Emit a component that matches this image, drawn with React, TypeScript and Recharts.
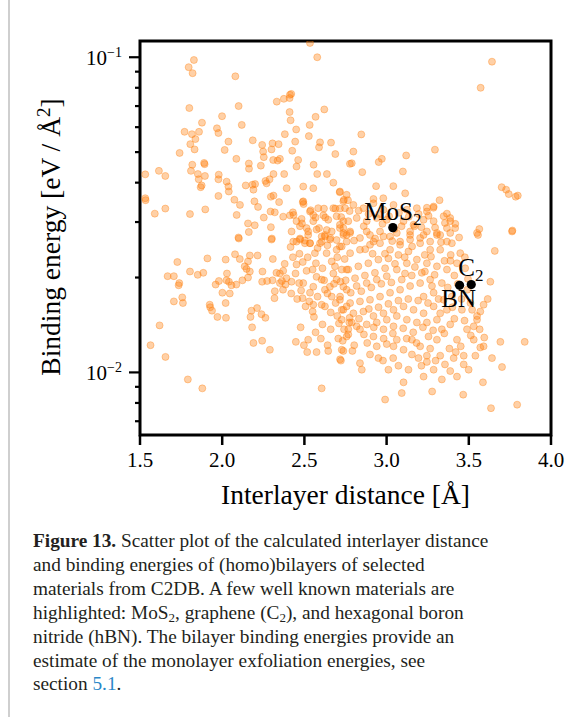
import { ScatterChart, Scatter, XAxis, YAxis, ReferenceArea } from 'recharts'

// interlayer distance [Å], binding energy [eV / Å^2] for each bilayer
const bilayers: [number, number][] = [
  [2.534, 0.111], [2.578, 0.100], [1.828, 0.098], [1.796, 0.093], [1.82, 0.089], [2.08, 0.087], [1.80, 0.069], [2.10, 0.070],
  [1.999, 0.065], [1.877, 0.062], [2.119, 0.061], [1.771, 0.058], [1.816, 0.057], [1.859, 0.058], [1.837, 0.055], [1.968, 0.0595],
  [1.977, 0.0575], [1.806, 0.053], [1.832, 0.051], [1.741, 0.0497], [2.038, 0.054], [2.015, 0.0508], [2.186, 0.0545], [2.243, 0.0527],
  [2.249, 0.0502], [2.253, 0.0482], [2.306, 0.0533], [2.343, 0.053], [2.30, 0.051], [2.31, 0.0472], [2.337, 0.047], [2.351, 0.0476],
  [2.332, 0.0723], [2.375, 0.0738], [2.412, 0.076], [2.42, 0.0765], [2.41, 0.0742], [2.41, 0.067], [2.416, 0.0631], [2.45, 0.059],
  [2.381, 0.057], [2.532, 0.061], [2.568, 0.0647], [2.621, 0.0683], [2.527, 0.0562], [2.444, 0.054], [2.595, 0.0537], [2.589, 0.0518],
  [2.662, 0.0536], [2.688, 0.0493], [2.426, 0.0505], [2.462, 0.0472], [2.452, 0.045], [2.556, 0.0456], [2.578, 0.0426], [2.637, 0.0426],
  [2.676, 0.040], [2.715, 0.0373], [2.554, 0.0384], [2.493, 0.0389], [2.377, 0.0426], [2.392, 0.0384], [2.312, 0.0426], [2.288, 0.041],
  [2.263, 0.0405], [2.27, 0.0398], [2.235, 0.0453], [2.162, 0.046], [2.163, 0.0443], [2.086, 0.0476], [2.143, 0.0392], [2.184, 0.0394],
  [2.2, 0.0396], [2.19, 0.038], [2.027, 0.0403], [2.038, 0.0389], [2.04, 0.0375], [1.979, 0.0424], [1.977, 0.041], [1.977, 0.0363],
  [1.895, 0.042], [1.875, 0.0392], [1.89, 0.0462], [1.893, 0.0458], [1.818, 0.0456], [1.81, 0.0436], [1.852, 0.0426], [1.857, 0.041],
  [1.869, 0.0387], [1.615, 0.0436], [1.654, 0.042], [1.532, 0.0425], [1.532, 0.0357], [1.534, 0.0352], [1.59, 0.0319], [1.654, 0.0331],
  [1.804, 0.0318], [1.897, 0.0329], [2.074, 0.0353], [2.108, 0.034], [2.088, 0.0316], [2.099, 0.0268], [2.196, 0.0349], [2.218, 0.0335],
  [2.253, 0.031], [2.157, 0.0297], [2.198, 0.0293], [2.294, 0.0324], [2.296, 0.0289], [2.302, 0.0266], [2.32, 0.0322], [2.346, 0.0347],
  [2.312, 0.0364], [2.296, 0.0361], [2.371, 0.0312], [2.434, 0.0316], [2.43, 0.0322], [2.49, 0.0347], [2.495, 0.0342], [2.483, 0.0307],
  [2.485, 0.0297], [2.513, 0.0287], [2.473, 0.0266], [2.538, 0.0327], [2.554, 0.0316], [2.568, 0.031], [2.619, 0.0331], [2.627, 0.031],
  [2.589, 0.0287], [2.636, 0.0283], [2.688, 0.0331], [2.716, 0.0331], [2.724, 0.0311], [2.74, 0.0353], [2.765, 0.0352], [2.716, 0.0287],
  [2.737, 0.0273], [2.658, 0.0267], [2.605, 0.027], [2.503, 0.0262], [2.777, 0.0459],
  [2.412, 0.0315], [2.452, 0.0302], [2.493, 0.0349], [2.534, 0.0324], [2.554, 0.0302], [2.584, 0.0332], [2.615, 0.0315], [2.645, 0.0305],
  [2.676, 0.0332], [2.696, 0.0313], [2.716, 0.0294], [2.747, 0.0332], [2.767, 0.0302], [2.422, 0.028], [2.473, 0.0291], [2.523, 0.0273],
  [2.574, 0.0284], [2.625, 0.0273], [2.666, 0.028], [2.696, 0.0263], [2.737, 0.0287], [2.757, 0.0273], [2.432, 0.026], [2.534, 0.0257],
  [2.605, 0.026],
  [3.641, 0.0968], [3.572, 0.080], [2.846, 0.0569], [2.798, 0.0502], [2.788, 0.0461], [2.852, 0.0432], [2.971, 0.0476], [2.952, 0.0465],
  [3.119, 0.0488], [3.099, 0.0434], [3.294, 0.0509], [2.936, 0.039], [3.041, 0.039], [3.113, 0.037], [3.322, 0.0352], [3.70, 0.0387],
  [3.727, 0.038], [3.743, 0.0368], [3.798, 0.0364], [3.785, 0.0361], [3.564, 0.0285], [3.556, 0.0273], [3.765, 0.0282], [2.92, 0.0355],
  [2.98, 0.0357], [2.757, 0.0366], [2.716, 0.0375], [3.245, 0.0333], [3.285, 0.0333], [3.367, 0.0319], [3.387, 0.0309], [3.418, 0.0296],
  [3.306, 0.0273], [3.367, 0.026],
  [2.737, 0.0349], [2.798, 0.034], [2.859, 0.0332], [2.92, 0.0344], [2.981, 0.0328], [3.042, 0.034], [3.123, 0.0328], [3.184, 0.0332],
  [3.245, 0.0324], [3.286, 0.0336], [3.347, 0.0313], [3.387, 0.0302], [3.367, 0.0287], [3.326, 0.0273], [3.245, 0.028], [3.204, 0.0267],
  [3.143, 0.0273], [3.082, 0.026], [3.021, 0.027], [2.96, 0.028], [2.899, 0.0273], [2.838, 0.0267], [2.778, 0.028], [2.737, 0.0302],
  [2.818, 0.0309], [2.879, 0.0302], [2.94, 0.0309], [3.001, 0.0305], [3.103, 0.0302], [3.164, 0.0294], [3.225, 0.0305], [3.286, 0.0302],
  [2.757, 0.026], [2.92, 0.026], [3.265, 0.026],
  [2.101, 0.0266], [2.162, 0.0279], [2.30, 0.0264], [1.727, 0.0224], [1.668, 0.0202], [1.706, 0.0202], [1.735, 0.0189], [1.739, 0.0192],
  [1.804, 0.0209], [1.851, 0.0204], [1.885, 0.0207], [1.91, 0.023], [1.706, 0.0168], [1.757, 0.0173], [1.761, 0.0166], [1.619, 0.0141],
  [1.564, 0.0122], [1.655, 0.0112], [1.791, 0.0095], [1.879, 0.0089], [1.924, 0.0164], [1.927, 0.0161], [1.938, 0.0157], [1.971, 0.015],
  [2.023, 0.0149], [2.021, 0.0166], [1.96, 0.019], [1.98, 0.0195], [2.001, 0.0179], [2.021, 0.0228], [2.078, 0.0237], [2.107, 0.0229],
  [2.029, 0.0206], [2.026, 0.0196], [2.041, 0.0194], [2.056, 0.0189], [2.046, 0.0178], [2.086, 0.019], [2.123, 0.0196], [2.157, 0.02],
  [2.148, 0.0213], [2.168, 0.0209], [2.168, 0.0235], [2.157, 0.0225], [2.137, 0.0217], [2.215, 0.0235], [2.243, 0.0194], [2.273, 0.0195],
  [2.308, 0.0229], [2.178, 0.0157], [2.212, 0.016], [2.239, 0.0153], [2.263, 0.0149], [2.172, 0.015], [2.182, 0.0139], [2.19, 0.0124],
  [2.243, 0.0126], [2.29, 0.0118], [2.32, 0.0181], [2.318, 0.0172],
  [2.351, 0.0206], [2.371, 0.021], [2.363, 0.0195], [2.391, 0.0199], [2.385, 0.019], [2.422, 0.0194], [2.416, 0.025], [2.452, 0.026],
  [2.452, 0.022], [2.446, 0.0206], [2.468, 0.0192], [2.493, 0.0192], [2.456, 0.0171], [2.489, 0.0172], [2.507, 0.0162], [2.513, 0.021],
  [2.534, 0.0179], [2.554, 0.0164], [2.558, 0.015], [2.568, 0.0134], [2.55, 0.0156], [2.477, 0.0139], [2.448, 0.0125], [2.497, 0.0122],
  [2.523, 0.0127], [2.517, 0.0116], [2.574, 0.0116], [2.605, 0.0089], [2.641, 0.0122], [2.645, 0.0117], [2.722, 0.0109], [2.706, 0.0128],
  [2.733, 0.0126], [2.737, 0.0117], [2.741, 0.0137], [2.727, 0.0147], [2.767, 0.0132], [2.773, 0.0144],
  [2.564, 0.0239], [2.57, 0.0222], [2.595, 0.0257], [2.625, 0.027], [2.635, 0.0239], [2.666, 0.0225], [2.686, 0.0217], [2.716, 0.0251],
  [2.727, 0.0212], [2.696, 0.0197], [2.655, 0.0187], [2.625, 0.0183], [2.605, 0.0164], [2.625, 0.0162], [2.666, 0.0174], [2.716, 0.017],
  [2.727, 0.0158], [2.757, 0.0162], [2.737, 0.0187], [2.757, 0.0212], [2.676, 0.0206], [2.696, 0.0245], [2.737, 0.0277], [2.655, 0.0264],
  [2.574, 0.0201], [2.605, 0.0197], [2.554, 0.0187], [2.534, 0.0257], [2.503, 0.0257], [2.473, 0.0264], [2.523, 0.028], [2.351, 0.0192],
  [2.33, 0.0207], [2.306, 0.0196], [2.245, 0.0209],
  [3.658, 0.0243], [3.631, 0.0194], [3.615, 0.0171], [3.59, 0.0164], [3.57, 0.0156], [3.55, 0.0147], [3.566, 0.0137], [3.594, 0.0129],
  [3.57, 0.012], [3.59, 0.0121], [3.641, 0.0111], [3.702, 0.0104], [3.692, 0.0125], [3.84, 0.0125], [3.586, 0.0093], [3.635, 0.0077],
  [3.794, 0.0079], [3.466, 0.0085], [3.277, 0.0087], [3.092, 0.0086], [3.103, 0.0093], [2.991, 0.0082], [3.225, 0.0097], [3.336, 0.0095],
  [3.428, 0.0097], [3.499, 0.0102], [3.469, 0.0106], [3.387, 0.0101], [3.286, 0.0102], [3.245, 0.0108], [3.194, 0.0111], [3.133, 0.0102],
  [3.072, 0.0105], [3.011, 0.0102], [2.95, 0.0111], [2.899, 0.0114], [2.838, 0.0107], [2.849, 0.0102], [2.717, 0.011], [2.727, 0.0118],
  [2.757, 0.013], [2.788, 0.0144], [2.838, 0.0137], [2.92, 0.013], [2.981, 0.0137], [3.042, 0.014], [3.062, 0.0127], [3.103, 0.0118],
  [3.154, 0.0127], [3.204, 0.0121], [3.255, 0.013], [3.306, 0.0127], [3.336, 0.0137], [3.387, 0.0142], [3.428, 0.0127], [3.489, 0.0137],
  [3.53, 0.0127], [3.54, 0.0113], [3.469, 0.0113], [3.408, 0.0111], [3.326, 0.0113], [3.245, 0.0113], [3.154, 0.0114], [3.042, 0.0121],
  [3.001, 0.0123], [3.326, 0.0154], [3.367, 0.0158], [3.286, 0.0162], [3.225, 0.0154], [3.164, 0.0158], [3.103, 0.0162], [3.042, 0.0158],
  [2.981, 0.0154], [2.92, 0.0151], [2.859, 0.0156], [2.798, 0.0154], [2.737, 0.0158], [2.717, 0.0174], [2.757, 0.0183], [2.818, 0.0188],
  [2.879, 0.0192], [2.94, 0.0197], [3.001, 0.0202], [3.062, 0.0212], [3.123, 0.0222], [3.184, 0.0228], [3.245, 0.0222], [3.306, 0.0217],
  [3.367, 0.0212], [3.428, 0.0222], [3.448, 0.0239], [3.397, 0.0257], [3.326, 0.0245], [3.265, 0.0245], [3.204, 0.0257], [3.143, 0.0264],
  [3.082, 0.0254], [3.021, 0.0245], [2.96, 0.0257], [2.899, 0.0254], [2.838, 0.0245], [2.778, 0.0239], [2.727, 0.0251], [2.767, 0.0212],
  [2.828, 0.0217], [2.889, 0.0222], [2.95, 0.0228], [3.011, 0.023], [3.072, 0.0236], [3.133, 0.0242], [2.778, 0.0277], [2.879, 0.028],
  [2.981, 0.027], [3.062, 0.0277], [3.143, 0.028], [3.225, 0.0273], [3.306, 0.0277], [3.387, 0.0277], [3.55, 0.0277], [3.763, 0.028],
  [3.336, 0.0192], [3.265, 0.0197], [3.204, 0.0192], [3.143, 0.0188], [3.082, 0.0183], [3.021, 0.0179], [2.96, 0.0174], [2.899, 0.017],
  [2.838, 0.0168], [2.778, 0.0166], [3.225, 0.0174], [3.286, 0.0179], [3.347, 0.017], [3.397, 0.0174], [3.306, 0.0147], [3.245, 0.0144],
  [3.184, 0.0144], [3.123, 0.0147], [3.062, 0.0151], [3.001, 0.0147], [2.94, 0.0144], [2.879, 0.0142], [2.818, 0.014], [2.767, 0.0137],
  [3.458, 0.0158], [3.52, 0.0158], [3.53, 0.014], [3.55, 0.0151],
  [2.745, 0.0229], [2.802, 0.0262], [2.861, 0.0291], [2.915, 0.0238], [2.975, 0.0296], [3.034, 0.0261], [3.091, 0.0291], [3.155, 0.0251],
  [3.212, 0.0289], [3.27, 0.0233], [3.331, 0.0259], [3.39, 0.0236], [3.441, 0.0268], [3.478, 0.0214], [3.412, 0.0203], [3.352, 0.0226],
  [3.292, 0.0204], [3.233, 0.0209], [3.172, 0.0216], [3.112, 0.0206], [3.051, 0.0221], [2.991, 0.0214], [2.929, 0.0207], [2.868, 0.0203],
  [2.808, 0.0199], [2.751, 0.0196], [2.782, 0.0179], [2.846, 0.0181], [2.907, 0.0186], [2.968, 0.0191], [3.029, 0.0193], [3.092, 0.0197],
  [3.153, 0.0203], [3.214, 0.0207], [3.276, 0.0188], [3.316, 0.0171], [3.372, 0.0186], [3.433, 0.0191], [3.491, 0.0183], [3.51, 0.0166],
  [3.456, 0.0171], [3.4, 0.0161], [3.252, 0.0166], [3.192, 0.0169], [3.132, 0.0171], [3.072, 0.0169], [3.011, 0.0165], [2.951, 0.0161],
  [2.892, 0.0159], [2.832, 0.0148], [2.775, 0.0149], [2.862, 0.0132], [2.922, 0.0139], [2.982, 0.0128], [3.038, 0.0133], [3.101, 0.0138],
  [3.162, 0.0134], [3.221, 0.0139], [3.283, 0.0136], [3.351, 0.0133], [3.412, 0.0148], [3.474, 0.0146], [3.512, 0.0131], [3.451, 0.0121],
  [3.382, 0.0119], [3.265, 0.0119], [3.182, 0.0124], [3.122, 0.0128], [2.94, 0.0121], [2.882, 0.0124], [2.803, 0.0122], [2.792, 0.0117],
  [3.212, 0.0105], [3.355, 0.0106], [3.04, 0.0111], [2.978, 0.0109], [3.421, 0.0116], [3.298, 0.0109], [2.87, 0.0246], [2.93, 0.0266],
  [2.99, 0.0238], [3.048, 0.0285], [3.11, 0.0232], [3.17, 0.0291], [3.232, 0.0236], [3.295, 0.0288], [3.355, 0.0298], [3.417, 0.0287],
  [3.476, 0.0232], [3.495, 0.0198], [3.388, 0.0226], [2.955, 0.0318], [3.015, 0.0313], [3.075, 0.0321], [3.135, 0.0312], [3.195, 0.0318],
  [3.255, 0.0314], [2.89, 0.0318], [2.83, 0.0326], [2.775, 0.0325],
  [2.47, 0.0238], [2.52, 0.0232], [2.58, 0.0248], [2.64, 0.0253], [2.7, 0.0232], [2.61, 0.0214], [2.55, 0.0212], [2.49, 0.0224],
  [2.43, 0.0232], [2.38, 0.0221], [2.62, 0.0196], [2.68, 0.0191], [2.72, 0.0194], [2.58, 0.0174], [2.64, 0.0178], [2.69, 0.0166],
  [2.53, 0.0168], [2.48, 0.0182], [2.42, 0.0178], [2.37, 0.0183], [2.71, 0.0143], [2.66, 0.0137], [2.61, 0.0142], [2.6, 0.0128],
  [2.66, 0.0155], [2.7, 0.0151],
]

// well known materials
const materials = ['MoS2', 'C2', 'BN']
const materialDistance = [3.038, 3.515, 3.444]
const materialEnergy = [0.0288, 0.019, 0.0189]

const xDomain = [1.5, 4.0]
const yDomain = [0.00633, 0.1126]
const xTicks = [1.5, 2.0, 2.5, 3.0, 3.5, 4.0]
const yMajor = [0.01, 0.1]
const yMinor = [0.007, 0.008, 0.009, 0.02, 0.03, 0.04, 0.05, 0.06, 0.07, 0.08, 0.09]

const points = bilayers.map(([x, y]) => ({ x, y }))
const highlights = materials.map((name, i) => ({ name, x: materialDistance[i], y: materialEnergy[i] }))

const FONT = '"Liberation Serif", "Times New Roman", serif'
const ORANGE = '#ff7f0e'

// text placement of the material labels relative to their dot
const labelPos: Record<string, { dx: number; dy: number; anchor: 'start' | 'middle' | 'end' }> = {
  MoS2: { dx: 0, dy: -8, anchor: 'middle' },
  C2: { dx: -13, dy: -9, anchor: 'start' },
  BN: { dx: -1, dy: 22, anchor: 'middle' },
}

function XTick(p: any) {
  return (
    <g>
      <line x1={p.x} x2={p.x} y1={p.y} y2={p.y + 10} stroke="#000" strokeWidth={2.5} />
      <text x={p.x} y={p.y + 32} textAnchor="middle" fontSize={21} fontFamily={FONT} fill="#000">
        {Number(p.payload.value).toFixed(1)}
      </text>
    </g>
  )
}

function YTick(p: any) {
  const v = p.payload.value
  const major = yMajor.includes(v)
  return (
    <g>
      <line x1={p.x - (major ? 11 : 5)} x2={p.x} y1={p.y} y2={p.y} stroke="#000" strokeWidth={2.2} />
      {major && (
        <text x={p.x - 18} y={p.y + 8} textAnchor="end" fontSize={21} fontFamily={FONT} fill="#000">
          10
          <tspan dy={-8} fontSize={14}>{'\u2212' + Math.round(-Math.log10(v))}</tspan>
        </text>
      )}
    </g>
  )
}

function Bilayer(p: any) {
  return (
    <circle cx={p.cx} cy={p.cy} r={3.5} fill={ORANGE} fillOpacity={0.37}
      stroke={ORANGE} strokeOpacity={0.37} strokeWidth={1} />
  )
}

function Material(p: any) {
  const name: string = p.payload.name
  const pos = labelPos[name]
  const base = name.replace(/\d+$/, '')
  const sub = name.slice(base.length)
  return (
    <g>
      <circle cx={p.cx} cy={p.cy} r={4.6} fill="#000" />
      <text x={p.cx + pos.dx} y={p.cy + pos.dy} textAnchor={pos.anchor} fontSize={25} fontFamily={FONT} fill="#000">
        {base}
        {sub && <tspan dy={5} fontSize={17}>{sub}</tspan>}
      </text>
    </g>
  )
}

export default function App() {
  return (
    <div style={{ position: 'absolute', left: 0, top: 0, width: 567, height: 717, background: '#fff', overflow: 'hidden' }}>
      <div style={{ position: 'absolute', left: 8, top: 0, width: 2, height: 717, background: '#cfcfcf' }} />
      <div style={{ position: 'absolute', left: 0, top: 0 }}>
        <ScatterChart width={567} height={520} margin={{ top: 41, right: 16, left: 0, bottom: 0 }}>
          <XAxis type="number" dataKey="x" domain={xDomain} ticks={xTicks} interval={0} allowDataOverflow
            height={85} tickSize={0} tickMargin={0} tickLine={false} axisLine={false} tick={<XTick />} />
          <YAxis type="number" dataKey="y" scale="log" domain={yDomain} ticks={[...yMinor, ...yMajor].sort((a, b) => a - b)}
            interval={0} allowDataOverflow width={140} tickSize={0} tickMargin={0} tickLine={false} axisLine={false} tick={<YTick />} />
          <Scatter data={points} shape={<Bilayer />} isAnimationActive={false} />
          <Scatter data={highlights} shape={<Material />} isAnimationActive={false} />
          <ReferenceArea x1={xDomain[0]} x2={xDomain[1]} y1={yDomain[0]} y2={yDomain[1]}
            fill="none" fillOpacity={0} stroke="#000" strokeWidth={3} ifOverflow="visible" />
        </ScatterChart>
      </div>
      <svg width={567} height={520} style={{ position: 'absolute', left: 0, top: 0, pointerEvents: 'none' }}>
        <text transform="translate(60,237) rotate(-90)" textAnchor="middle" fontSize={27.5} fontFamily={FONT} fill="#000">
          Binding energy [eV / Å<tspan dy={-10} fontSize={19}>2</tspan><tspan dy={10}>]</tspan>
        </text>
        <text x={345.5} y={504} textAnchor="middle" fontSize={27.5} fontFamily={FONT} fill="#000">
          Interlayer distance [Å]
        </text>
      </svg>
      <div style={{ position: 'absolute', left: 33, top: 529, fontFamily: FONT, fontSize: 19.3, lineHeight: '23.9px', color: '#231f20', whiteSpace: 'nowrap' }}>
        <b>Figure 13.</b> Scatter plot of the calculated interlayer distance<br />
        and binding energies of (homo)bilayers of selected<br />
        materials from C2DB. A few well known materials are<br />
        highlighted: MoS<sub style={{ fontSize: 13, verticalAlign: '-3px', lineHeight: 0 }}>2</sub>, graphene (C<sub style={{ fontSize: 13, verticalAlign: '-3px', lineHeight: 0 }}>2</sub>), and hexagonal boron<br />
        nitride (hBN). The bilayer binding energies provide an<br />
        estimate of the monolayer exfoliation energies, see<br />
        section <span style={{ color: '#2a87c8' }}>5.1</span>.
      </div>
    </div>
  )
}
